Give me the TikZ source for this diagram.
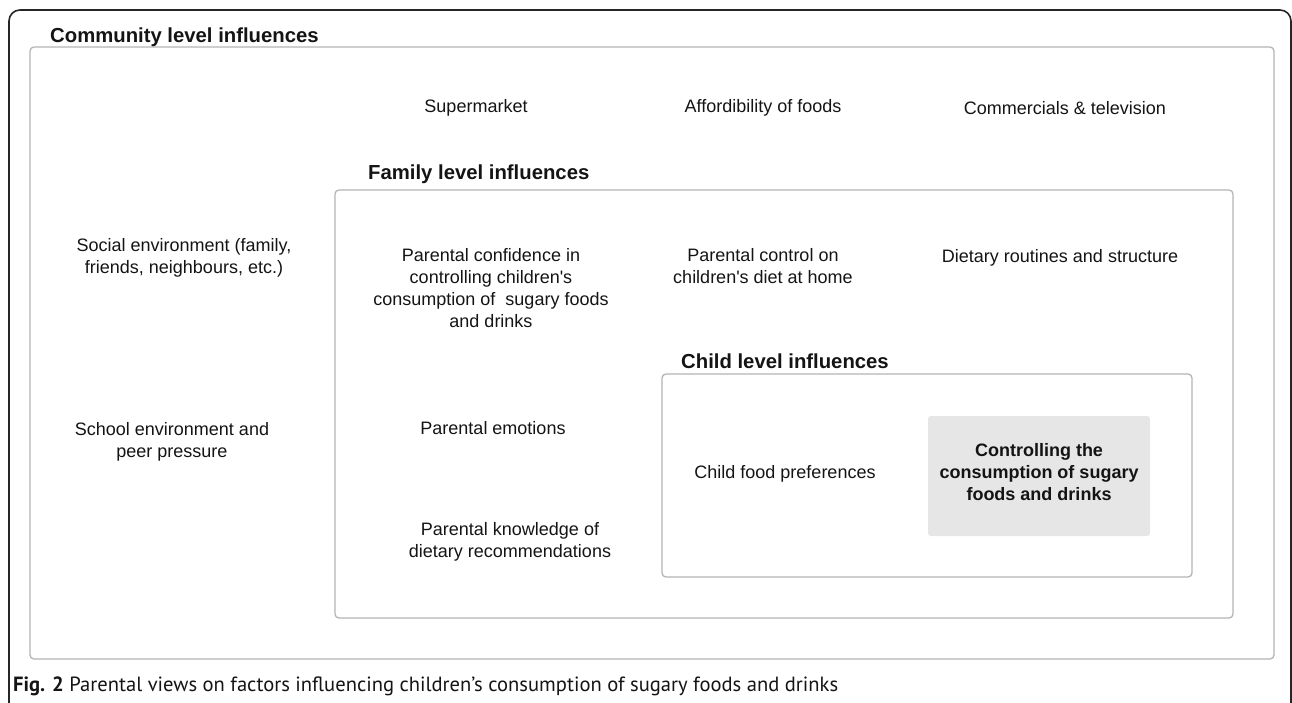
\documentclass[tikz,border=0pt]{standalone}
\usepackage{fontspec}
\setmainfont{Liberation Sans}
\newfontfamily\capfont{PT Sans}
\definecolor{framegray}{HTML}{B4B4B4}
\definecolor{boxfill}{HTML}{E6E6E6}
\definecolor{ink}{HTML}{141414}
\begin{document}
\begin{tikzpicture}[x=1pt,y=-1pt,
  grpbox/.style={draw=framegray,line width=1.3pt,rounded corners=4pt},
  item/.style={inner sep=0pt,align=center,text=ink,font=\fontsize{18}{22}\selectfont},
  title/.style={inner sep=0pt,anchor=base west,text=ink,font=\fontsize{20.3}{24}\selectfont\bfseries},
  core/.style={fill=boxfill,rounded corners=3pt},
  coretext/.style={inner sep=0pt,align=center,text=ink,font=\fontsize{18}{21.7}\selectfont\bfseries}]
\useasboundingbox (0,0) rectangle (1292,702);
% outer frame
\begin{scope}
\clip (0,0) rectangle (1292,702);
\draw[line width=1.6pt,color=black!85,rounded corners=11pt] (9,720) -- (9,10) -- (1291,10) -- (1291,720);
\end{scope}
% group boxes
\draw[grpbox] (30,47) rectangle (1274,659);
\draw[grpbox] (335,190) rectangle (1233,618);
\draw[grpbox] (662,374) rectangle (1192,577);
\fill[core] (928,416) rectangle (1150,536);
% titles
\node[title] (tcom) at (50,42) {Community level influences};
\node[title] (tfam) at (368,179) {Family level influences};
\node[title] (tchi) at (681,368) {Child level influences};
% community items
\node[item] (super) at (476,108) {Supermarket};
\node[item] (afford) at (763,108) {Affordibility of foods};
\node[item] (comm) at (1065,108) {Commercials \& television};
\node[item] (social) at (184,258) {Social environment (family,\\friends, neighbours, etc.)};
\node[item] (school) at (172,442) {School environment and\\peer pressure};
% family items
\node[item] (conf) at (491,288) {Parental confidence in\\controlling children\textquotesingle s\\consumption of\ \ sugary foods\\and drinks};
\node[item] (control) at (763,266) {Parental control on\\children\textquotesingle s diet at home};
\node[item] (routine) at (1060,258) {Dietary routines and structure};
\node[item] (emot) at (493,428) {Parental emotions};
\node[item] (know) at (510,542) {Parental knowledge of\\dietary recommendations};
% child items
\node[item] (pref) at (785,474) {Child food preferences};
\node[coretext] (target) at (1039,472) {Controlling the\\consumption of sugary\\foods and drinks};
% caption
\node[inner sep=0pt,anchor=base west,text=ink] (cap) at (13,691) {\resizebox{825pt}{!}{\capfont{\bfseries Fig. 2} Parental views on factors influencing children’s consumption of sugary foods and drinks}};
\end{tikzpicture}
\end{document}
